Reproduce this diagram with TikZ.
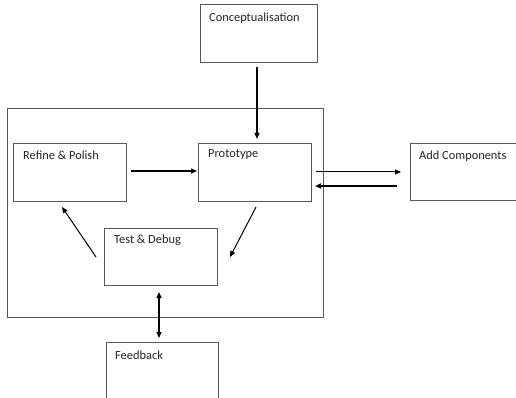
\documentclass[tikz,border=0pt]{standalone}
\usepackage{fontspec}
\setmainfont{Carlito}
\usetikzlibrary{arrows.meta}
\begin{document}
\begin{tikzpicture}[x=1pt,y=-1pt,
  box/.style={draw=black!65,line width=1pt},
  lbl/.style={anchor=west,inner sep=0pt,font=\fontsize{12.4}{14}\selectfont,text=black!85},
  arr/.style={line width=1.2pt,-{Triangle[length=6pt,width=5pt]}},
  darr/.style={line width=1.2pt,{Triangle[length=6pt,width=5pt]}-{Triangle[length=6pt,width=5pt]}}]
\useasboundingbox[fill=white] (0,0) rectangle (516,398);
% container
\draw[box] (7,109) rectangle (323,317);
% boxes
\draw[box] (200,5) rectangle (317,63);
\coordinate (cB) at (257,63);
\draw[box] (13,144) rectangle (126,201);
\draw[box] (198,144) rectangle (311,201);
\draw[box] (410,144) -- (517,144) (410,144) -- (410,200) -- (517,200);
\draw[box] (104,228) rectangle (217,285);
\draw[box] (106,399) -- (106,342) -- (218,342) -- (218,399);
% labels
\node[lbl] (concept) at (209,18) {Conceptualisation};
\node[lbl] (refine) at (23,155) {Refine \& Polish};
\node[lbl] (proto) at (208,155) {Prototype};
\node[lbl] (addc) at (419,156) {Add Components};
\node[lbl] (test) at (114,240) {Test \& Debug};
\node[lbl] (feed) at (115,355) {Feedback};
% arrow endpoints
\coordinate (c1) at (257,67);  \coordinate (c2) at (257,139);
\coordinate (r1) at (131,171); \coordinate (r2) at (197,171);
\coordinate (a1) at (316,172); \coordinate (a2) at (401,172);
\coordinate (b1) at (397,186); \coordinate (b2) at (315,186);
\coordinate (l1) at (96,257);  \coordinate (l2) at (62,207);
\coordinate (p1) at (256,207); \coordinate (p2) at (230,257);
\coordinate (f1) at (159,292); \coordinate (f2) at (159,338);
\draw[arr] (c1) -- (c2);
\draw[arr] (r1) -- (r2);
\draw[arr,line width=1pt] (a1) -- (a2);
\draw[arr,line width=1.5pt] (b1) -- (b2);
\draw[arr,line width=1pt] (l1) -- (l2);
\draw[arr,line width=1pt] (p1) -- (p2);
\draw[darr] (f1) -- (f2);
\end{tikzpicture}
\end{document}
